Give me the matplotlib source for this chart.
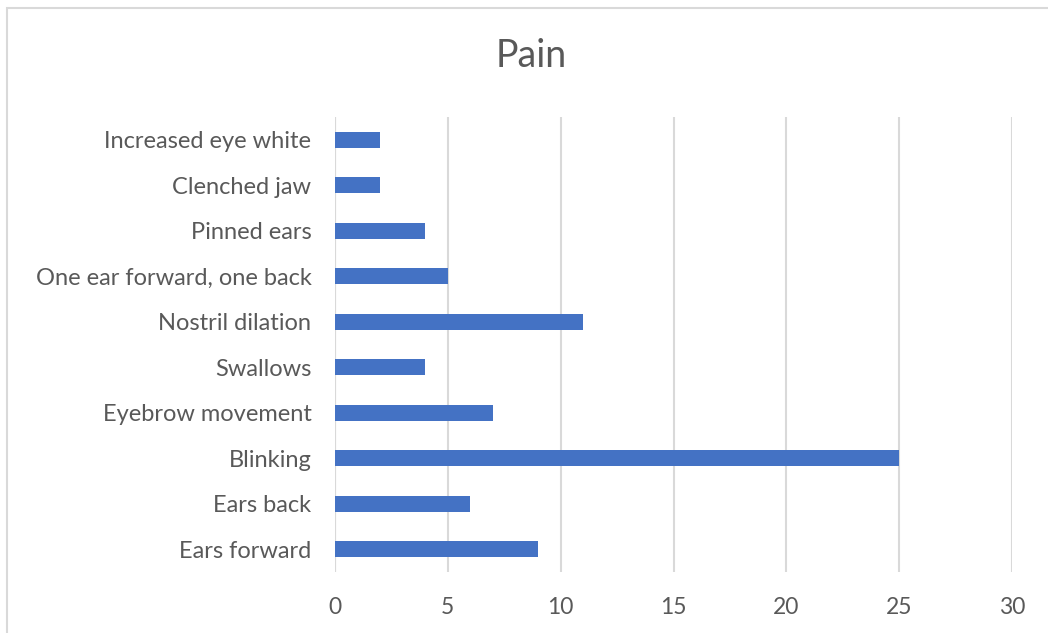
import matplotlib.pyplot as plt
from matplotlib.patches import Rectangle

categories = ["Ears forward", "Ears back", "Blinking", "Eyebrow movement", "Swallows",
              "Nostril dilation", "One ear forward, one back", "Pinned ears",
              "Clenched jaw", "Increased eye white"]
counts = [9, 6, 25, 7, 4, 11, 5, 4, 2, 2]
x_ticks = [0, 5, 10, 15, 20, 25, 30]

plt.rcParams['font.family'] = ['Lato', 'DejaVu Sans']
text_color = "#595959"
grid_color = "#d9d9d9"

fig = plt.figure(figsize=(10.48, 6.33), dpi=100)
fig.patches.append(Rectangle((7 / 1048, -0.1), 1.2, 1 - 8 / 633 + 0.1,
                             transform=fig.transFigure, fill=False,
                             edgecolor=grid_color, linewidth=1.5))

ax = fig.add_axes([335 / 1048, 1 - 572 / 633, (1012 - 335) / 1048, (572 - 117) / 633])
ax.barh(range(len(categories)), counts, height=0.36, color="#4472C4", zorder=3)
ax.set_ylim(-0.5, len(categories) - 0.5)
ax.set_xlim(0, 30)
ax.set_xticks(x_ticks)
ax.set_yticks(range(len(categories)))
ax.set_yticklabels(categories)
ax.grid(axis="x", color=grid_color, linewidth=1.5, zorder=0)
for s in ax.spines.values():
    s.set_visible(False)
ax.axvline(0, color=grid_color, linewidth=1.5, zorder=1)
ax.tick_params(axis="both", length=0, labelcolor=text_color)
ax.tick_params(axis="y", pad=17, labelsize=17)
ax.tick_params(axis="x", pad=18, labelsize=16.5)

fig.text(531 / 1048, 1 - 56 / 633, "Pain", ha="center", va="center",
         fontsize=27, color=text_color)

fig.savefig("out.png", dpi=100)
